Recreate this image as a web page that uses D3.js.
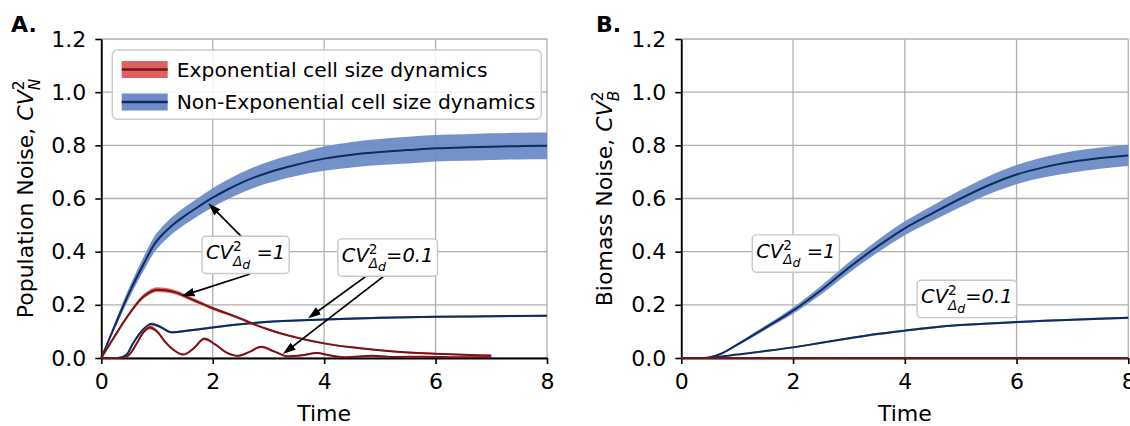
<!DOCTYPE html>
<html>
<head>
<meta charset="utf-8">
<script src="https://cdn.jsdelivr.net/npm/d3@7"></script>
<style>
body { margin: 0; background: #fff; }
text { font-family: "DejaVu Sans", sans-serif; fill: #000; }
</style>
</head>
<body>
<svg id="chart" width="1130" height="426"></svg>
<script>

var timeTicks = [0, 2, 4, 6, 8];
var noiseTicks = [0, 0.2, 0.4, 0.6, 0.8, 1.0, 1.2];
var legendLabels = ["Exponential cell size dynamics", "Non-Exponential cell size dynamics"];

// Panel A: population noise
var popExpHiT   = [0, 0.16, 0.25, 0.4, 0.55, 0.7, 0.85, 1.0, 1.15, 1.35, 1.6, 2.0, 2.25, 2.5, 2.73, 3.0, 3.5, 4.0, 4.5, 5.0, 5.5, 6.0, 6.5, 7.0];
var popExpHi    = [0, 0.055, 0.085, 0.135, 0.18, 0.22, 0.245, 0.257, 0.255, 0.246, 0.223, 0.187, 0.168, 0.148, 0.128, 0.107, 0.077, 0.055, 0.04, 0.029, 0.021, 0.016, 0.012, 0.009];
var popExpHiErr = [0, 0.004, 0.005, 0.006, 0.007, 0.008, 0.009, 0.009, 0.009, 0.008, 0.007, 0.006, 0.005, 0.005, 0.004, 0.004, 0.003, 0.003, 0.003, 0.003, 0.003, 0.003, 0.003, 0.003];

var popExpLoT   = [0, 0.3, 0.45, 0.55, 0.65, 0.75, 0.87, 1.0, 1.15, 1.3, 1.47, 1.65, 1.85, 2.05, 2.25, 2.45, 2.65, 2.87, 3.1, 3.35, 3.6, 3.87, 4.1, 4.4, 4.85, 5.3, 5.8, 6.4, 7.0];
var popExpLo    = [0, 0, 0.005, 0.025, 0.06, 0.095, 0.115, 0.1, 0.06, 0.03, 0.013, 0.035, 0.072, 0.05, 0.02, 0.008, 0.022, 0.042, 0.025, 0.006, 0.01, 0.019, 0.01, 0.003, 0.008, 0.004, 0.005, 0.003, 0.003];
var popExpLoErr = [0, 0, 0.002, 0.004, 0.005, 0.006, 0.008, 0.006, 0.005, 0.004, 0.003, 0.004, 0.005, 0.004, 0.003, 0.003, 0.003, 0.004, 0.003, 0.003, 0.003, 0.003, 0.003, 0.002, 0.002, 0.002, 0.002, 0.002, 0.002];

var popNonHiT   = [0, 0.16, 0.25, 0.5, 0.75, 0.96, 1.1, 1.25, 1.5, 1.75, 2.0, 2.25, 2.5, 3.0, 3.5, 4.0, 4.5, 5.0, 5.5, 6.0, 6.5, 7.0, 7.5, 8.0];
var popNonHi    = [0, 0.08, 0.125, 0.245, 0.35, 0.43, 0.465, 0.495, 0.535, 0.57, 0.603, 0.632, 0.658, 0.698, 0.727, 0.75, 0.765, 0.775, 0.782, 0.789, 0.792, 0.795, 0.797, 0.798];
var popNonHiErr = [0, 0.008, 0.012, 0.02, 0.026, 0.03, 0.031, 0.032, 0.033, 0.034, 0.036, 0.037, 0.038, 0.04, 0.042, 0.046, 0.048, 0.049, 0.05, 0.05, 0.05, 0.05, 0.05, 0.05];

var popNonLoT   = [0, 0.3, 0.45, 0.57, 0.68, 0.78, 0.9, 1.05, 1.26, 1.6, 2.0, 2.5, 3.0, 3.5, 4.0, 5.0, 6.0, 7.0, 8.0];
var popNonLo    = [0, 0, 0.012, 0.055, 0.09, 0.113, 0.128, 0.118, 0.097, 0.104, 0.115, 0.127, 0.136, 0.141, 0.145, 0.151, 0.155, 0.157, 0.159];
var popNonLoErr = [0, 0, 0.003, 0.004, 0.005, 0.005, 0.006, 0.005, 0.004, 0.004, 0.004, 0.004, 0.004, 0.004, 0.004, 0.004, 0.004, 0.004, 0.004];

// Panel B: biomass noise
var bioExpT     = [0, 8];
var bioExp      = [0, 0];
var bioExpErr   = [0.004, 0.004];

var bioNonHiT   = [0, 0.4, 0.7, 1.0, 1.5, 2.0, 2.5, 3.0, 3.5, 4.0, 4.5, 5.0, 5.5, 6.0, 6.5, 7.0, 7.5, 8.0];
var bioNonHi    = [0, 0, 0.015, 0.05, 0.113, 0.178, 0.255, 0.34, 0.418, 0.488, 0.545, 0.6, 0.65, 0.69, 0.718, 0.738, 0.752, 0.762];
var bioNonHiErr = [0, 0, 0.002, 0.005, 0.008, 0.012, 0.016, 0.02, 0.023, 0.026, 0.029, 0.032, 0.034, 0.036, 0.038, 0.04, 0.04, 0.04];

var bioNonLoT   = [0, 0.4, 0.6, 1.0, 1.5, 2.0, 2.5, 3.0, 3.5, 4.0, 4.5, 5.0, 5.5, 6.0, 6.5, 7.0, 7.5, 8.0];
var bioNonLo    = [0, 0, 0.003, 0.013, 0.026, 0.04, 0.057, 0.074, 0.09, 0.103, 0.115, 0.124, 0.13, 0.135, 0.14, 0.144, 0.148, 0.151];
var bioNonLoErr = [0, 0, 0.001, 0.002, 0.003, 0.003, 0.003, 0.004, 0.004, 0.004, 0.004, 0.004, 0.004, 0.004, 0.004, 0.004, 0.004, 0.004];

// annotations (data units): label centre, then arrows [fromT, fromV, toT, toV]
var popLabelT = [2.59, 5.14];
var popLabelV = [0.388, 0.378];
var popLabelTail = [" =1", "=0.1"];
var popArrows = [[2.52, 0.456, 1.92, 0.582], [2.67, 0.316, 1.44, 0.233],
                 [4.76, 0.309, 3.71, 0.149], [5.06, 0.306, 3.26, 0.015]];
var bioLabelT = [2.05, 5.11];
var bioLabelV = [0.393, 0.222];
var bioLabelTail = [" =1", "=0.1"];

var redBand = "#dc6262", redLine = "#7c1212";
var blueBand = "#6e8bc7", blueLine = "#0c2c5e";

var svg = d3.select("#chart");

svg.append("defs").append("marker")
   .attr("id", "head")
   .attr("viewBox", "0 0 12 10")
   .attr("refX", 12).attr("refY", 5)
   .attr("markerWidth", 13).attr("markerHeight", 11)
   .attr("markerUnits", "userSpaceOnUse")
   .attr("orient", "auto")
   .append("path").attr("d", "M0,1 L12,5 L0,9 Z").attr("fill", "#000");

function zipSeries(t, v, e) {
   return t.map(function(d, i) { return {t: d, v: v[i], e: e[i]}; });
}

// CV^2 with a subscript, as stacked super/subscript
function cvText(sel, size, sub, subsub, tail) {
   var small = size * 0.7;
   sel.append("tspan").style("font-style", "italic").text("CV");
   sel.append("tspan").attr("dy", -0.42 * size).style("font-size", small + "px").text("2");
   sel.append("tspan").attr("dx", -0.64 * small).attr("dy", 0.75 * size)
      .style("font-size", small + "px").style("font-style", "italic").text(sub);
   var back = 0.33 * size;
   if (subsub) {
      sel.append("tspan").attr("dy", 0.14 * size).style("font-size", small * 0.92 + "px")
         .style("font-style", "italic").text(subsub);
      back += 0.14 * size;
   }
   if (tail) {
      sel.append("tspan").attr("dy", -back).style("font-style", "italic").text(tail);
   }
}

function drawPanel(cfg) {
   var x = d3.scaleLinear().domain([0, 8]).range([cfg.left, cfg.right]);
   var y = d3.scaleLinear().domain([0, 1.2]).range([358, 39]);
   var g = svg.append("g");

   g.selectAll(".vgrid").data(timeTicks).enter().append("line")
    .attr("x1", function(d) { return x(d); }).attr("x2", function(d) { return x(d); })
    .attr("y1", y(0)).attr("y2", y(1.2))
    .attr("stroke", "#b0b0b0").attr("stroke-width", 1.3);
   g.selectAll(".hgrid").data(noiseTicks).enter().append("line")
    .attr("x1", x(0)).attr("x2", x(8))
    .attr("y1", function(d) { return y(d); }).attr("y2", function(d) { return y(d); })
    .attr("stroke", "#b0b0b0").attr("stroke-width", 1.3);

   var xa = g.append("g").attr("transform", "translate(0," + y(0) + ")")
             .call(d3.axisBottom(x).tickValues(timeTicks).tickSize(6).tickPadding(9)
                   .tickSizeOuter(0).tickFormat(d3.format("d")));
   var ya = g.append("g").attr("transform", "translate(" + x(0) + ",0)")
             .call(d3.axisLeft(y).tickValues(noiseTicks).tickSize(6).tickPadding(9)
                   .tickSizeOuter(0).tickFormat(d3.format(".1f")));
   [xa, ya].forEach(function(a) {
      a.select(".domain").attr("stroke", "#000").attr("stroke-width", 1.8);
      a.selectAll(".tick line").attr("stroke", "#000").attr("stroke-width", 1.6);
      a.selectAll(".tick text").style("font-family", "DejaVu Sans").style("font-size", "22px");
   });

   var area = d3.area().curve(d3.curveMonotoneX)
                .x(function(d) { return x(d.t); })
                .y0(function(d) { return y(d.v - d.e); })
                .y1(function(d) { return y(d.v + d.e); });
   var line = d3.line().curve(d3.curveMonotoneX)
                .x(function(d) { return x(d.t); })
                .y(function(d) { return y(d.v); });

   cfg.series.forEach(function(s) {
      g.append("path").datum(s.data).attr("d", area).attr("fill", s.band).attr("opacity", 0.95);
      g.append("path").datum(s.data).attr("d", line).attr("fill", "none")
       .attr("stroke", s.line).attr("stroke-width", 2);
   });

   (cfg.arrows || []).forEach(function(a) {
      var x1 = x(a[0]), y1 = y(a[1]), x2 = x(a[2]), y2 = y(a[3]);
      var len = Math.hypot(x2 - x1, y2 - y1), k = (len - 8) / len;
      g.append("line").attr("x1", x1).attr("y1", y1)
       .attr("x2", x1 + (x2 - x1) * k).attr("y2", y1 + (y2 - y1) * k)
       .attr("stroke", "#000").attr("stroke-width", 1.8);
      g.append("line").attr("x1", x1).attr("y1", y1).attr("x2", x2).attr("y2", y2)
       .attr("stroke", "none").attr("marker-end", "url(#head)");
   });

   cfg.labelT.forEach(function(t, i) {
      var lg = g.append("g");
      var txt = lg.append("text").attr("x", 0).attr("y", 0).style("font-size", "19.5px");
      cvText(txt, 19.5, "\u0394", "d", cfg.labelTail[i]);
      var bb = txt.node().getBBox();
      txt.attr("transform", "translate(" + (x(t) - bb.x - bb.width / 2) + "," +
                                          (y(cfg.labelV[i]) - bb.y - bb.height / 2) + ")");
      lg.insert("rect", "text")
        .attr("x", x(t) - bb.width / 2 - 4).attr("y", y(cfg.labelV[i]) - bb.height / 2 - 2)
        .attr("width", bb.width + 8).attr("height", bb.height + 4)
        .attr("rx", 4).attr("fill", "#fff").attr("stroke", "#c8c8c8").attr("stroke-width", 1.4);
   });

   var yl = g.append("text")
             .attr("transform", "translate(" + cfg.ylabX + "," + y(0.6) + ") rotate(-90)")
             .attr("text-anchor", "middle").style("font-size", "22px");
   yl.append("tspan").text(cfg.ylabel);
   cvText(yl, 22, cfg.ysub, null, null);

   g.append("text").attr("x", (x(0) + x(8)) / 2).attr("y", 421)
    .attr("text-anchor", "middle").style("font-size", "22px").text("Time");

   g.append("text").attr("x", cfg.tagX).attr("y", 32)
    .style("font-size", "22px").style("font-weight", "bold").text(cfg.tag);
}

drawPanel({
   left: 101.3, right: 547, ylabX: 33, tagX: 11, tag: "A.",
   ylabel: "Population Noise, ", ysub: "N",
   series: [
      {data: zipSeries(popNonHiT, popNonHi, popNonHiErr), band: blueBand, line: blueLine},
      {data: zipSeries(popNonLoT, popNonLo, popNonLoErr), band: blueBand, line: blueLine},
      {data: zipSeries(popExpHiT, popExpHi, popExpHiErr), band: redBand, line: redLine},
      {data: zipSeries(popExpLoT, popExpLo, popExpLoErr), band: redBand, line: redLine}
   ],
   arrows: popArrows, labelT: popLabelT, labelV: popLabelV, labelTail: popLabelTail
});

drawPanel({
   left: 681.3, right: 1128.3, ylabX: 612, tagX: 596, tag: "B.",
   ylabel: "Biomass Noise, ", ysub: "B",
   series: [
      {data: zipSeries(bioNonHiT, bioNonHi, bioNonHiErr), band: blueBand, line: blueLine},
      {data: zipSeries(bioNonLoT, bioNonLo, bioNonLoErr), band: blueBand, line: blueLine},
      {data: zipSeries(bioExpT, bioExp, bioExpErr), band: redBand, line: redLine}
   ],
   arrows: [], labelT: bioLabelT, labelV: bioLabelV, labelTail: bioLabelTail
});

// legend, panel A
var leg = svg.append("g");
leg.append("rect").attr("x", 112.3).attr("y", 50).attr("width", 429).attr("height", 69.3)
   .attr("rx", 5).attr("fill", "#fff").attr("fill-opacity", 0.85)
   .attr("stroke", "#cccccc").attr("stroke-width", 1.4);
var legBands = [redBand, blueBand], legLines = [redLine, blueLine];
leg.selectAll(".item").data(legendLabels).enter().append("g")
   .attr("transform", function(d, i) { return "translate(0," + (69.5 + i * 32.5) + ")"; })
   .each(function(d, i) {
      var it = d3.select(this);
      it.append("rect").attr("x", 121.7).attr("y", -8.5).attr("width", 46).attr("height", 17)
        .attr("fill", legBands[i]);
      it.append("line").attr("x1", 121.7).attr("x2", 167.7).attr("y1", 0).attr("y2", 0)
        .attr("stroke", legLines[i]).attr("stroke-width", 2.4);
      it.append("text").attr("x", 176.7).attr("y", 0).attr("dy", "0.36em")
        .style("font-family", "DejaVu Sans").style("font-size", "20.3px").text(d);
   });

</script>
</body>
</html>
